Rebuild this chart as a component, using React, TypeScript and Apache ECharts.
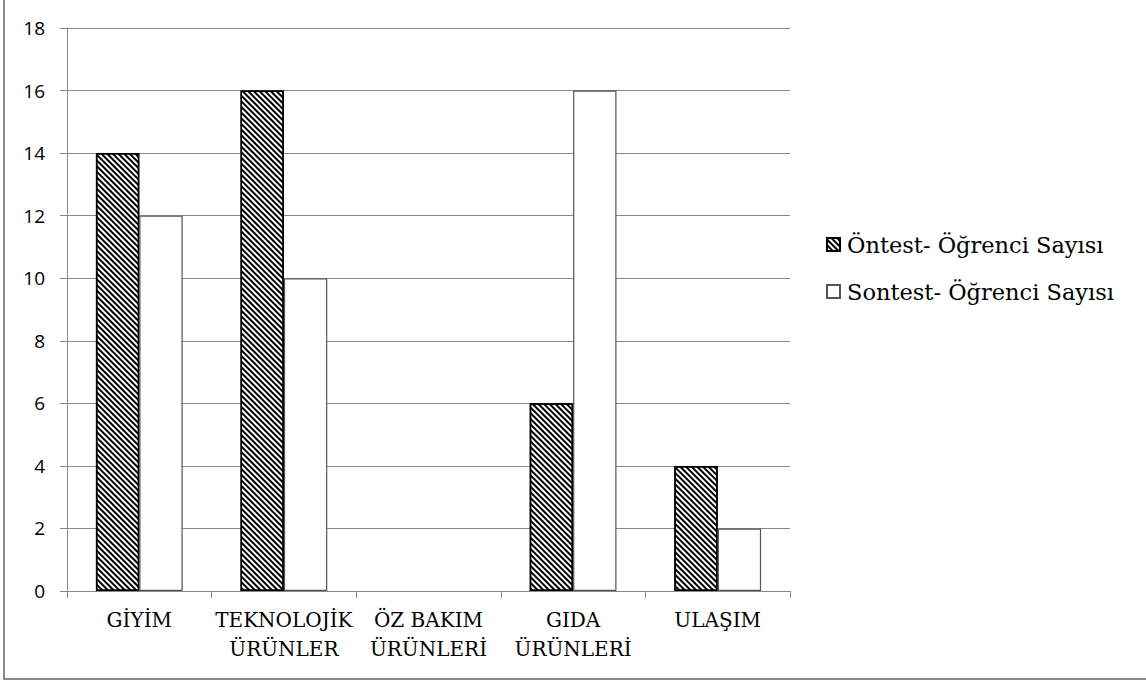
import React, { useEffect, useRef } from "react";
import * as echarts from "echarts";

const categories = ["GİYİM", "TEKNOLOJİK\nÜRÜNLER", "ÖZ BAKIM\nÜRÜNLERİ", "GIDA\nÜRÜNLERİ", "ULAŞIM"];
const ontest = [14, 16, 0, 6, 4];
const sontest = [12, 10, 0, 16, 2];
const seriesNames = ["Öntest- Öğrenci Sayısı", "Sontest- Öğrenci Sayısı"];

const GRAY = "#888888";
const SERIF = "'DejaVu Serif', serif";

export default function App() {
  const ref = useRef<HTMLDivElement>(null);
  useEffect(() => {
    const chart = echarts.init(ref.current!, null, { renderer: "svg" });
    const hatch = {
      symbol: "rect",
      symbolSize: 1,
      color: "#000000",
      dashArrayX: [1, 0],
      dashArrayY: [1.9, 1.9],
      rotation: Math.PI / 4,
    };
    const mk = (arr: number[]) =>
      arr.map((v) => (v === 0 ? { value: v, itemStyle: { borderWidth: 0 } } : { value: v }));
    chart.setOption({
      animation: false,
      backgroundColor: "#ffffff",
      grid: { left: 67, right: 356, top: 28, bottom: 91 },
      legend: {
        orient: "vertical",
        left: 821,
        top: 228,
        itemWidth: 13,
        itemHeight: 13,
        itemGap: 24,
        icon: "rect",
        textStyle: { fontFamily: SERIF, fontSize: 22.5, color: "#000", padding: [0, 0, 0, 2] },
        data: seriesNames,
      },
      xAxis: {
        type: "category",
        data: categories,
        axisLine: { lineStyle: { color: GRAY, width: 1 } },
        axisTick: { show: true, length: 7, lineStyle: { color: GRAY } },
        axisLabel: {
          fontFamily: SERIF,
          fontSize: 20,
          color: "#000",
          lineHeight: 29,
          margin: 14,
          interval: 0,
        },
      },
      yAxis: {
        type: "value",
        min: 0,
        max: 18,
        interval: 2,
        axisLine: { show: true, lineStyle: { color: GRAY, width: 1 } },
        axisTick: { show: true, length: 7, lineStyle: { color: GRAY } },
        splitLine: { lineStyle: { color: GRAY, width: 1 } },
        axisLabel: { fontFamily: "'Open Sans', sans-serif", fontSize: 19, color: "#000", margin: 22 },
      },
      graphic: [
        {
          type: "polyline",
          shape: { points: [[4, 0], [4, 679], [1146, 679]] },
          style: { stroke: GRAY, lineWidth: 2, fill: "none" },
        },
      ],
      series: [
        {
          name: seriesNames[0],
          type: "bar",
          data: mk(ontest),
          barGap: "0%",
          barCategoryGap: "40%",
          itemStyle: { color: "#ffffff", borderColor: "#000000", borderWidth: 1.5, decal: hatch },
        },
        {
          name: seriesNames[1],
          type: "bar",
          data: mk(sontest),
          barGap: "0%",
          barCategoryGap: "40%",
          itemStyle: { color: "#ffffff", borderColor: "#555555", borderWidth: 1.2 },
        },
      ],
    });
    return () => chart.dispose();
  }, []);
  return <div ref={ref} style={{ position: "absolute", left: 0, top: 0, width: 1146, height: 682 }} />;
}
